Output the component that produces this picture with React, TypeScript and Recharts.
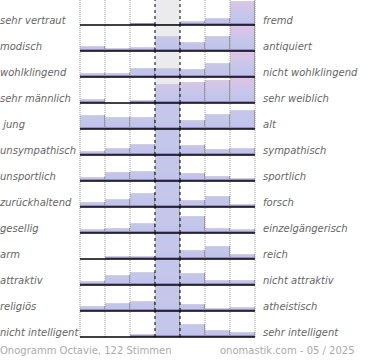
import React from "react";
import { BarChart, Bar, XAxis, YAxis, ReferenceArea, ReferenceLine } from "recharts";

const columns = [1, 2, 3, 4, 5, 6, 7];

const leftLabels = [
  "sehr vertraut",
  "modisch",
  "wohlklingend",
  "sehr männlich",
  " jung",
  "unsympathisch",
  "unsportlich",
  "zurückhaltend",
  "gesellig",
  "arm",
  "attraktiv",
  "religiös",
  "nicht intelligent",
];

const rightLabels = [
  "fremd",
  "antiquiert",
  "nicht wohlklingend",
  "sehr weiblich",
  "alt",
  "sympathisch",
  "sportlich",
  "forsch",
  "einzelgängerisch",
  "reich",
  "nicht attraktiv",
  "atheistisch",
  "sehr intelligent",
];

// bar heights per row (row max = 26)
const votes = [
  [0, 0, 2, 0.3, 4, 7, 24],
  [5, 3, 4, 15, 9, 15, 26],
  [4, 4, 9, 9, 8, 14, 26],
  [4, 0, 3, 19, 21, 23, 26],
  [14, 12, 12, 26, 9, 15, 19],
  [4, 7, 11, 26, 10, 6, 7],
  [4, 9, 10, 26, 8, 5, 3],
  [5, 8, 14, 26, 7, 11, 3],
  [4, 5, 10, 26, 17, 5, 4],
  [0, 3, 3, 26, 9, 13, 5],
  [4, 10, 13, 26, 12, 5, 5],
  [5, 8, 10, 26, 7, 3, 4],
  [0, 0, 3, 26, 13, 7, 5],
];

// rows whose tall bars fade into pink
const pinkRows = [0, 1, 2, 3];

const dottedAt = [0, 1, 2, 5, 6, 7];
const dashedAt = [3, 4];

const footerLeft = "Onogramm Octavie, 122 Stimmen";
const footerRight = "onomastik.com - 05 / 2025";

const ROW_H = 26;
const FONT = "'DejaVu Sans', Verdana, sans-serif";

function BarShape(props: any) {
  const { x, y, width, height, fill } = props;
  if (!height || height <= 0) return null;
  const strip = Math.min(2, height);
  return (
    <g>
      <rect x={x} y={y} width={width} height={height} fill={fill} />
      <line x1={x} x2={x + width} y1={y + 0.5} y2={y + 0.5} stroke="#cfcfe0" strokeWidth={1} />
      <rect x={x} y={y + height - strip} width={width} height={strip} fill="#988cc8" />
      <line
        x1={x + width - 0.5}
        x2={x + width - 0.5}
        y1={y}
        y2={y + height}
        stroke="#9a9a9a"
        strokeWidth={1}
      />
    </g>
  );
}

function Row({ index }: { index: number }) {
  const data = columns.map((c, k) => ({ col: c, v: votes[index][k] }));
  const gid = `grad-${index}`;
  const pink = pinkRows.includes(index);
  return (
    <BarChart
      width={370}
      height={ROW_H + 2}
      data={data}
      margin={{ top: 0, right: 115, left: 80, bottom: 2 }}
      barCategoryGap={0}
      barGap={0}
    >
      <defs>
        <linearGradient id={gid} x1="0" y1="0" x2="0" y2={ROW_H} gradientUnits="userSpaceOnUse">
          <stop offset="0" stopColor={pink ? "#e0c4e4" : "#c3c7ec"} />
          <stop offset="0.6" stopColor="#c5c7ea" />
          <stop offset="1" stopColor="#bfc3ea" />
        </linearGradient>
      </defs>
      <XAxis dataKey="col" hide padding={{ left: 0, right: 0 }} />
      <XAxis xAxisId="grid" type="number" dataKey="col" domain={[0, 7]} hide />
      <YAxis domain={[0, ROW_H]} hide allowDataOverflow />
      <ReferenceArea x1={4} x2={4} fill="#ebebee" fillOpacity={1} stroke="none" />
      {dottedAt.map((p) => (
        <ReferenceLine key={`d${p}`} xAxisId="grid" x={p} stroke="#999" strokeDasharray="1 1" />
      ))}
      <Bar
        dataKey="v"
        fill={`url(#${gid})`}
        isAnimationActive={false}
        shape={<BarShape />}
      />
      {dashedAt.map((p) => (
        <ReferenceLine key={`m${p}`} xAxisId="grid" x={p} stroke="#000" strokeDasharray="3 3" />
      ))}
      <ReferenceLine y={0} stroke="#000" strokeWidth={1.5} />
    </BarChart>
  );
}

const labelStyle: React.CSSProperties = {
  position: "absolute",
  fontFamily: FONT,
  fontStyle: "italic",
  fontSize: 10,
  lineHeight: "12px",
  color: "#666",
  whiteSpace: "pre",
};

export default function App() {
  return (
    <div
      style={{
        position: "absolute",
        left: 0,
        top: 0,
        width: 370,
        height: 360,
        background: "#fff",
        overflow: "hidden",
      }}
    >
      {votes.map((_, i) => {
        const base = 25 + ROW_H * i;
        return (
          <React.Fragment key={i}>
            <div style={{ position: "absolute", left: 0, top: base - ROW_H, zIndex: 30 - i }}>
              <Row index={i} />
            </div>
            <div style={{ ...labelStyle, left: 0, top: base - 10.5 }}>{leftLabels[i]}</div>
            <div style={{ ...labelStyle, left: 263, top: base - 10.5 }}>{rightLabels[i]}</div>
          </React.Fragment>
        );
      })}
      <div
        style={{
          position: "absolute",
          left: 0,
          top: 345,
          fontFamily: FONT,
          fontSize: 10,
          lineHeight: "12px",
          color: "#aaa",
          whiteSpace: "pre",
        }}
      >
        {footerLeft}
      </div>
      <div
        style={{
          position: "absolute",
          left: 220,
          top: 345,
          fontFamily: FONT,
          fontSize: 10,
          lineHeight: "12px",
          color: "#aaa",
          whiteSpace: "pre",
        }}
      >
        {footerRight}
      </div>
    </div>
  );
}
